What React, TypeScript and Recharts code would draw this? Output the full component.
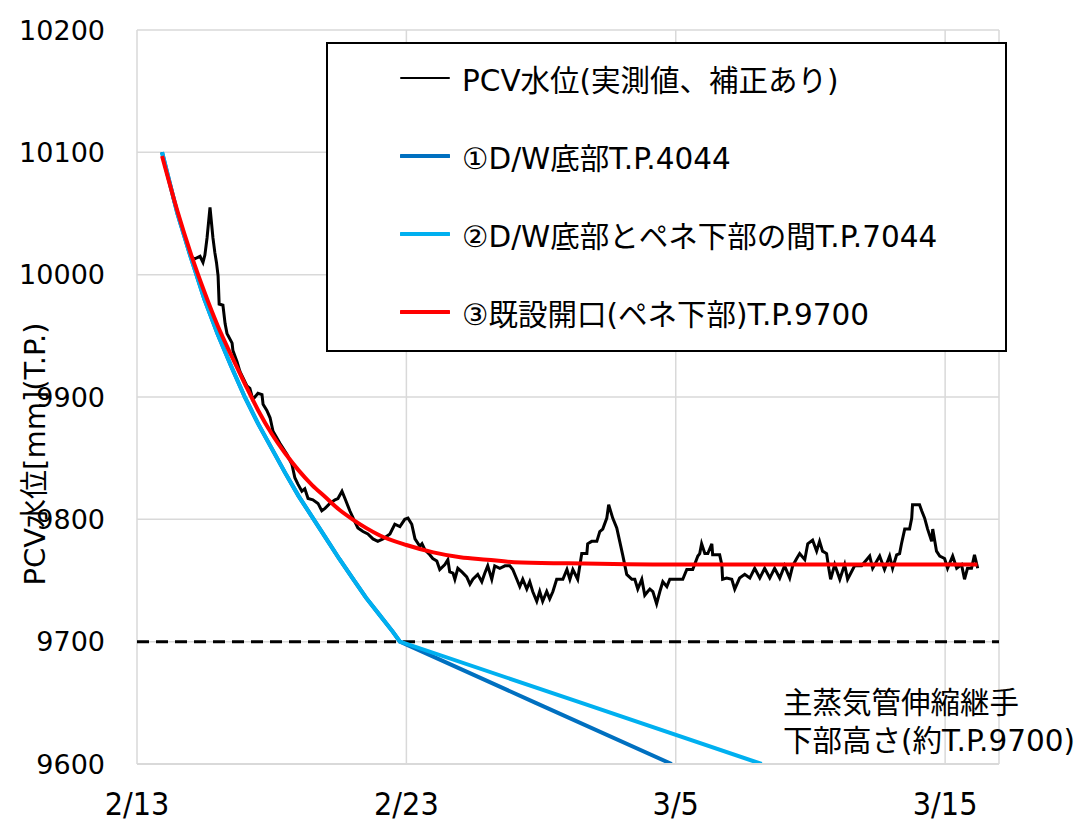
import React from 'react';
import { LineChart, Line, XAxis, YAxis, CartesianGrid, ReferenceLine, Legend } from 'recharts';

const FONT = '"DejaVu Sans", "Noto Sans CJK JP", sans-serif';
const FONT_COND = '"DejaVu Sans Condensed", "Noto Sans CJK JP", sans-serif';

// x axis: days since 2/13
const xTicks = [0, 10, 20, 30];
const xTickLabels = ['2/13', '2/23', '3/5', '3/15'];
const yTicks = [9600, 9700, 9800, 9900, 10000, 10100, 10200];

const seriesNames = [
  'PCV水位(実測値、補正あり)',
  '①D/W底部T.P.4044',
  '②D/W底部とペネ下部の間T.P.7044',
  '③既設開口(ペネ下部)T.P.9700',
];
const seriesColors = ['#000000', '#0070c0', '#00b0f0', '#ff0000'];

const yAxisTitle = 'PCV水位[mm](T.P.)';
const annotationLines = ['主蒸気管伸縮継手', '下部高さ(約T.P.9700)'];
const thresholdLevel = 9700;

// measured level (black)
const measuredDays = [
  0.93, 1.0, 1.3, 1.35, 1.6, 1.86, 2.0, 2.15, 2.34, 2.45, 2.52, 2.6, 2.71, 2.82, 2.89, 2.95, 3.01, 3.05, 3.19, 3.27,
  3.34, 3.53, 3.56, 3.71, 3.82, 4.08, 4.19, 4.3, 4.49, 4.64, 4.68, 4.82, 4.94, 5.05, 5.31, 5.57, 5.75, 5.86, 5.97, 6.12,
  6.23, 6.35, 6.53, 6.72, 6.86, 6.98, 7.16, 7.35, 7.46, 7.61, 7.72, 7.9, 8.09, 8.2, 8.39, 8.57, 8.76, 8.94, 9.13, 9.39,
  9.57, 9.76, 9.94, 10.06, 10.2, 10.32, 10.5, 10.58, 10.69, 10.87, 10.98, 11.13, 11.24, 11.43, 11.54, 11.61, 11.73, 11.8, 11.91, 12.06,
  12.24, 12.36, 12.47, 12.65, 12.8, 12.91, 13.02, 13.17, 13.28, 13.47, 13.66, 13.84, 13.95, 14.1, 14.21, 14.32, 14.47, 14.58, 14.69, 14.84,
  14.95, 15.06, 15.21, 15.32, 15.44, 15.58, 15.81, 15.96, 16.07, 16.18, 16.36, 16.51, 16.7, 16.73, 16.88, 17.07, 17.18, 17.29, 17.44, 17.51,
  17.66, 17.81, 17.92, 18.03, 18.18, 18.37, 18.48, 18.59, 18.74, 18.85, 18.96, 19.04, 19.15, 19.29, 19.41, 19.52, 19.67, 19.78, 19.89, 20.04,
  20.26, 20.41, 20.63, 20.82, 20.89, 20.96, 21.08, 21.19, 21.34, 21.37, 21.63, 21.71, 21.74, 21.89, 22.08, 22.19, 22.37, 22.56, 22.75, 22.93,
  23.12, 23.3, 23.49, 23.67, 23.86, 24.04, 24.23, 24.34, 24.49, 24.6, 24.79, 24.9, 25.08, 25.23, 25.34, 25.45, 25.6, 25.68, 25.75, 25.9,
  26.09, 26.27, 26.38, 26.64, 26.9, 27.2, 27.31, 27.57, 27.75, 27.94, 28.05, 28.2, 28.31, 28.38, 28.5, 28.68, 28.76, 28.79, 29.05, 29.13,
  29.24, 29.35, 29.5, 29.54, 29.68, 29.8, 29.98, 30.09, 30.28, 30.43, 30.61, 30.72, 30.83, 30.98, 31.09, 31.21,
];
const measuredLevels = [
  10100, 10093, 10068, 10062, 10043, 10024, 10014, 10013, 10015, 10010, 10016, 10030, 10055, 10030, 10018, 10010, 9999, 9976, 9975, 9960,
  9952, 9944, 9938, 9929, 9921, 9909, 9907, 9898, 9903, 9902, 9894, 9889, 9883, 9872, 9862, 9853, 9845, 9834, 9829, 9823,
  9825, 9817, 9816, 9813, 9807, 9809, 9813, 9816, 9817, 9823, 9817, 9807, 9798, 9793, 9790, 9788, 9784, 9782, 9784, 9788,
  9796, 9794, 9800, 9801, 9796, 9784, 9778, 9780, 9775, 9771, 9768, 9766, 9759, 9763, 9767, 9757, 9756, 9751, 9760, 9757,
  9753, 9747, 9751, 9755, 9749, 9756, 9762, 9751, 9762, 9760, 9762, 9762, 9759, 9751, 9745, 9751, 9743, 9749, 9741, 9733,
  9741, 9733, 9741, 9735, 9741, 9751, 9751, 9759, 9751, 9759, 9751, 9772, 9772, 9780, 9782, 9782, 9790, 9792, 9801, 9812,
  9801, 9793, 9782, 9771, 9755, 9751, 9751, 9743, 9751, 9738, 9741, 9743, 9741, 9731, 9741, 9749, 9745, 9751, 9751, 9751,
  9751, 9759, 9759, 9770, 9772, 9780, 9772, 9772, 9780, 9771, 9771, 9763, 9751, 9752, 9751, 9743, 9752, 9755, 9752, 9760,
  9752, 9760, 9752, 9760, 9752, 9762, 9752, 9762, 9768, 9772, 9767, 9780, 9783, 9774, 9782, 9774, 9772, 9760, 9751, 9763,
  9751, 9763, 9751, 9762, 9762, 9770, 9760, 9770, 9759, 9770, 9760, 9771, 9772, 9780, 9792, 9792, 9801, 9812, 9812, 9807,
  9801, 9792, 9782, 9792, 9774, 9770, 9768, 9760, 9770, 9760, 9763, 9751, 9760, 9760, 9771, 9760,
];

// ① D/W bottom (dark blue)
const dwBottomDays = [0.93, 1.5, 2, 2.5, 3, 3.5, 4, 4.5, 5, 5.5, 6, 6.5, 7, 7.5, 8, 8.5, 9, 9.5, 9.76, 14.8, 19.85];
const dwBottomLevels = [10100, 10050, 10014, 9980, 9951, 9925, 9900, 9878, 9858, 9838, 9819, 9802, 9785, 9768, 9752, 9736, 9722, 9708, 9700, 9650, 9600];

// ② between D/W bottom and penetration (light blue)
const dwMidDays = [0.93, 1.5, 2, 2.5, 3, 3.5, 4, 4.5, 5, 5.5, 6, 6.5, 7, 7.5, 8, 8.5, 9, 9.5, 9.76, 16.5, 23.19];
const dwMidLevels = [10100, 10050, 10014, 9980, 9951, 9925, 9900, 9878, 9858, 9838, 9819, 9802, 9785, 9768, 9752, 9736, 9722, 9708, 9700, 9650, 9600];

// ③ existing opening (red)
const openingDays = [0.93, 1.5, 2, 2.5, 3, 3.5, 4, 4.5, 5, 5.5, 6, 6.5, 7, 7.5, 8, 8.5, 9, 10, 11, 12, 13, 14, 16, 20, 25, 31.2];
const openingLevels = [10097, 10052, 10017, 9986, 9958, 9934, 9911, 9889, 9870, 9854, 9840, 9828, 9818, 9808, 9800, 9793, 9787, 9779, 9773, 9769, 9767, 9765, 9764, 9763, 9763, 9763];

const toRows = (days: number[], levels: number[]) => days.map((d, i) => ({ d, v: levels[i] }));
const measuredData = toRows(measuredDays, measuredLevels);
const dwBottomData = toRows(dwBottomDays, dwBottomLevels);
const dwMidData = toRows(dwMidDays, dwMidLevels);
const openingData = toRows(openingDays, openingLevels);

const legendLineWidths = [2, 4, 4, 4];

const renderLegend = () => (
  <div
    style={{
      width: 681,
      height: 310,
      border: '2px solid #000',
      boxSizing: 'border-box',
      background: '#fff',
      position: 'relative',
      fontFamily: FONT,
      fontSize: 29.5,
      color: '#000',
    }}
  >
    {seriesNames.map((name, i) => (
      <div
        key={name}
        style={{ position: 'absolute', left: 72, top: 34 + i * 78 - 20, height: 40, display: 'flex', alignItems: 'center' }}
      >
        <svg width={50} height={10} style={{ display: 'block' }}>
          <line x1={1} y1={5} x2={49} y2={5} stroke={seriesColors[i]} strokeWidth={legendLineWidths[i]} strokeLinecap="round" />
        </svg>
        <span style={{ marginLeft: 12, whiteSpace: 'nowrap' }}>{name}</span>
      </div>
    ))}
  </div>
);

const renderYTitle = () => (
  <text
    x={35}
    y={454}
    transform="rotate(-90 35 454)"
    textAnchor="middle"
    dominantBaseline="central"
    fontFamily={FONT}
    fontSize={29}
    fill="#000"
  >
    {yAxisTitle}
  </text>
);

const renderAnnotation = () => (
  <g>
    {annotationLines.map((t, i) => (
      <text key={t} x={783} y={713 + i * 38} fontFamily={FONT} fontSize={29.5} fill="#000">
        {t}
      </text>
    ))}
  </g>
);

export default function App() {
  return (
    <div style={{ position: 'absolute', left: 0, top: 0, width: 1082, height: 822, background: '#fff' }}>
      <LineChart width={1082} height={822} margin={{ top: 30, right: 83, left: 0, bottom: 0 }}>
        <CartesianGrid stroke="#d9d9d9" strokeWidth={1.5} />
        <XAxis
          type="number"
          dataKey="d"
          domain={[0, 32]}
          ticks={xTicks}
          tickFormatter={(v: number) => xTickLabels[xTicks.indexOf(v)] ?? ''}
          allowDataOverflow
          height={58}
          tickSize={0}
          tickMargin={28}
          axisLine={{ stroke: '#d9d9d9', strokeWidth: 2 }}
          tick={{ fontFamily: FONT_COND, fontSize: 32, fill: '#000' }}
        />
        <YAxis
          type="number"
          domain={[9600, 10200]}
          ticks={yTicks}
          allowDataOverflow
          width={137}
          tickSize={0}
          tickMargin={32}
          axisLine={false}
          tick={{ fontFamily: FONT, fontSize: 27, fill: '#000' }}
          label={renderYTitle}
        />
        <ReferenceLine
          y={thresholdLevel}
          stroke="#000"
          strokeWidth={3}
          strokeDasharray="12 7"
          label={renderAnnotation}
        />
        <Line data={measuredData} dataKey="v" type="linear" stroke={seriesColors[0]} strokeWidth={3} dot={false} isAnimationActive={false} />
        <Line data={dwBottomData} dataKey="v" type="linear" stroke={seriesColors[1]} strokeWidth={4} dot={false} isAnimationActive={false} />
        <Line data={dwMidData} dataKey="v" type="linear" stroke={seriesColors[2]} strokeWidth={4} dot={false} isAnimationActive={false} />
        <Line data={openingData} dataKey="v" type="monotone" stroke={seriesColors[3]} strokeWidth={4} dot={false} isAnimationActive={false} />
        <Legend
          layout="horizontal"
          verticalAlign="middle"
          align="center"
          content={renderLegend}
          wrapperStyle={{ position: 'absolute', left: 326, top: 42, width: 681, height: 310, bottom: 'auto', right: 'auto' }}
        />
      </LineChart>
    </div>
  );
}
